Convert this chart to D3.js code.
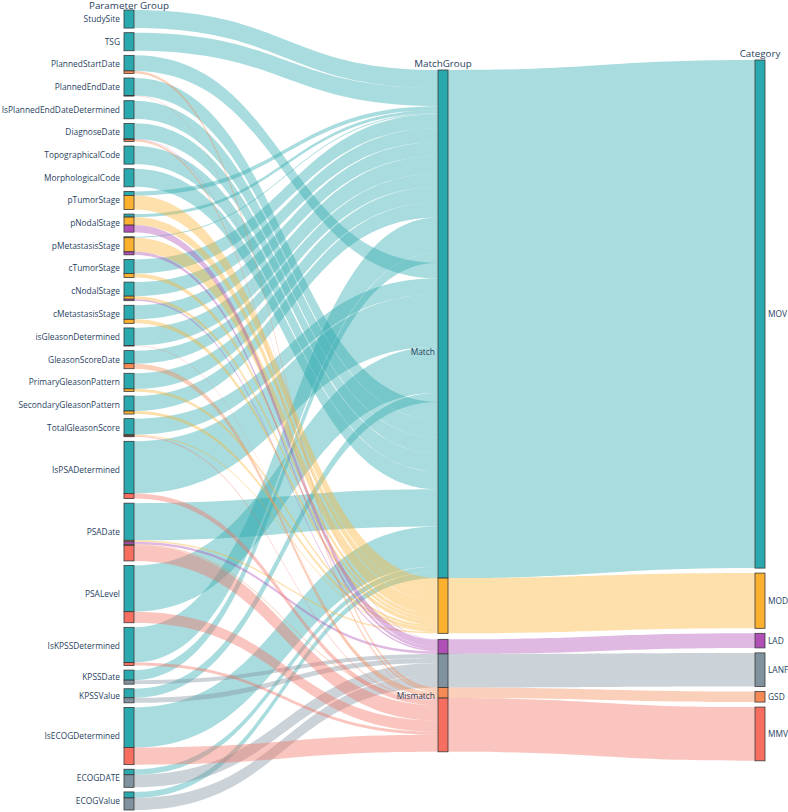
<!DOCTYPE html>
<html>
<head>
<meta charset="utf-8">
<script src="https://cdn.jsdelivr.net/npm/d3@7"></script>
<style>
  body { margin: 0; background: #fff; }
  text { font-family: "Open Sans", verdana, arial, sans-serif; fill: #2a3f5f; }
</style>
</head>
<body>
<div id="chart"></div>
<script>
// Parameters (left column), top to bottom
var params = ["StudySite", "TSG", "PlannedStartDate", "PlannedEndDate", "IsPlannedEndDateDetermined",
    "DiagnoseDate", "TopographicalCode", "MorphologicalCode", "pTumorStage", "pNodalStage",
    "pMetastasisStage", "cTumorStage", "cNodalStage", "cMetastasisStage", "isGleasonDetermined",
    "GleasonScoreDate", "PrimaryGleasonPattern", "SecondaryGleasonPattern", "TotalGleasonScore",
    "IsPSADetermined", "PSADate", "PSALevel", "IsKPSSDetermined", "KPSSDate", "KPSSValue",
    "IsECOGDetermined", "ECOGDATE", "ECOGValue"];

var categories = ["MOV", "MOD", "LAD", "LANF", "GSD", "MMV"];
var categoryGroup = ["Match", "Match", "Mismatch", "Mismatch", "Mismatch", "Mismatch"];
var groups = ["Match", "Mismatch"];
var columnTitles = ["Parameter Group", "MatchGroup", "Category"];

// values per parameter for each category (same order as params)
var movValues  = [18, 18, 15.5, 17.5, 18, 15.5, 18, 18, 4, 3, 1, 14, 14, 14, 17.5, 13, 15.5, 15, 16, 52, 37, 46, 35, 10, 9, 40, 5.5, 6];
var modValues  = [0, 0, 0, 0, 0, 0, 0, 0, 14, 8, 14, 4, 3, 4, 0, 0, 2.5, 3, 1, 0, 1.5, 0, 0, 0, 0, 0, 0, 0];
var ladValues  = [0, 0, 0, 0, 0, 0.5, 0, 0, 0, 7, 3, 0, 1.5, 0, 0, 0, 0, 0, 0, 0, 2.5, 0, 0, 0, 0, 0, 0, 0];
var lanfValues = [0, 0, 0, 0, 0, 0, 0, 0, 0, 0, 0, 0, 0, 0, 0, 0, 0, 0, 0, 0, 0, 0, 0, 4, 5, 0, 12.5, 12];
var gsdValues  = [0, 0, 2.5, 0, 0, 2, 0, 0, 0, 0, 0, 0, 0, 0, 0, 5, 0, 0, 0, 0, 1, 0, 0, 0, 0, 0, 0, 0];
var mmvValues  = [0, 0, 0, 0.5, 0, 0, 0, 0, 0, 0, 0, 0, 0, 0, 0.5, 0, 0, 0, 1, 5, 15.5, 11, 3, 0, 0, 17, 0, 0];

// order in which the MOV links arrive at the MatchGroup node
var movOrder = ["StudySite", "TSG", "pTumorStage", "pNodalStage", "pMetastasisStage", "cTumorStage",
    "cNodalStage", "cMetastasisStage", "isGleasonDetermined", "GleasonScoreDate", "PrimaryGleasonPattern",
    "SecondaryGleasonPattern", "IsKPSSDetermined", "KPSSDate", "PlannedStartDate", "TotalGleasonScore",
    "IsPSADetermined", "PSALevel", "KPSSValue", "PlannedEndDate", "IsPlannedEndDateDetermined",
    "DiagnoseDate", "TopographicalCode", "MorphologicalCode", "PSADate", "IsECOGDetermined",
    "ECOGDATE", "ECOGValue"];

var nodeColors = ["#29a8ad", "#fbb12f", "#b04fb6", "#7f929e", "#f68a55", "#f56e5f"];

var w = 788;
var h = 812;

var svg = d3.select("#chart")
    .append("svg")
    .attr("width", w)
    .attr("height", h);

var nodeX = [124, 438, 755];
var nodeW = 10;
var colTop = [10, 70, 60];
var leftBottom = 810;
var padLeft = 4.6, padRight = 5, padGroup = 6;

var series = [movValues, modValues, ladValues, lanfValues, gsdValues, mmvValues];
var catTotals = series.map(s => d3.sum(s));
var grand = d3.sum(catTotals);

var y = d3.scaleLinear()
    .domain([0, grand])
    .range([0, leftBottom - colTop[0] - padLeft * (params.length - 1)]);

// left column: one stacked bar per parameter, split by category
var leftNodes = [];
var leftGroups = [];
var cy = colTop[0];
params.forEach(function (p, i) {
    var g0 = cy;
    categories.forEach(function (c, ci) {
        var v = series[ci][i];
        if (v > 0) {
            leftNodes.push({ param: p, cat: ci, y0: cy, y1: cy + y(v) });
            cy += y(v);
        }
    });
    leftGroups.push({ name: p, y0: g0, y1: cy });
    cy += padLeft;
});

// middle column: Match / Mismatch, split by category
var midNodes = [];
var midGroups = [];
cy = colTop[1];
groups.forEach(function (g) {
    var g0 = cy;
    categories.forEach(function (c, ci) {
        if (categoryGroup[ci] !== g) return;
        midNodes[ci] = { cat: ci, y0: cy, y1: cy + y(catTotals[ci]) };
        cy = midNodes[ci].y1;
    });
    midGroups.push({ name: g, y0: g0, y1: cy });
    cy += padGroup;
});

// right column: categories
cy = colTop[2];
var rightNodes = categories.map(function (c, ci) {
    var n = { name: c, cat: ci, y0: cy, y1: cy + y(catTotals[ci]) };
    cy = n.y1 + padRight;
    return n;
});

// links
var links = [];
categories.forEach(function (c, ci) {
    var order = ci === 0 ? movOrder : params;
    var t = midNodes[ci].y0;
    order.forEach(function (p) {
        var src = leftNodes.find(n => n.param === p && n.cat === ci);
        if (!src) return;
        var bw = src.y1 - src.y0;
        links.push({ cat: ci, x0: nodeX[0] + nodeW, s0: src.y0, s1: src.y1, x1: nodeX[1], t0: t, t1: t + bw });
        t += bw;
    });
});
categories.forEach(function (c, ci) {
    links.push({ cat: ci, x0: nodeX[1] + nodeW, s0: midNodes[ci].y0, s1: midNodes[ci].y1,
        x1: nodeX[2], t0: rightNodes[ci].y0, t1: rightNodes[ci].y1 });
});

function linkPath(d) {
    var xm = (d.x0 + d.x1) / 2;
    return "M" + d.x0 + "," + d.s0 +
        "C" + xm + "," + d.s0 + " " + xm + "," + d.t0 + " " + d.x1 + "," + d.t0 +
        "L" + d.x1 + "," + d.t1 +
        "C" + xm + "," + d.t1 + " " + xm + "," + d.s1 + " " + d.x0 + "," + d.s1 + "Z";
}

svg.append("g")
    .selectAll("path")
    .data(links)
    .enter()
    .append("path")
    .attr("d", linkPath)
    .attr("fill", d => nodeColors[d.cat])
    .attr("fill-opacity", 0.4);

// nodes
var allNodes = leftNodes.map(n => Object.assign({ x: nodeX[0] }, n))
    .concat(midNodes.map(n => Object.assign({ x: nodeX[1] }, n)))
    .concat(rightNodes.map(n => Object.assign({ x: nodeX[2] }, n)));

svg.append("g")
    .selectAll("rect")
    .data(allNodes)
    .enter()
    .append("rect")
    .attr("x", d => d.x)
    .attr("y", d => d.y0)
    .attr("width", nodeW)
    .attr("height", d => d.y1 - d.y0)
    .attr("fill", d => nodeColors[d.cat])
    .attr("stroke", "#3b3b3b")
    .attr("stroke-width", 0.8);

// labels
var labels = svg.append("g").style("font-size", "8.4px");

labels.selectAll(".lbl-left")
    .data(leftGroups)
    .enter()
    .append("text")
    .attr("x", nodeX[0] - 4)
    .attr("y", d => (d.y0 + d.y1) / 2)
    .attr("dy", "0.35em")
    .attr("text-anchor", "end")
    .text(d => d.name);

labels.selectAll(".lbl-mid")
    .data(midGroups)
    .enter()
    .append("text")
    .attr("x", nodeX[1] - 3)
    .attr("y", d => (d.y0 + d.y1) / 2)
    .attr("dy", "0.35em")
    .attr("text-anchor", "end")
    .text(d => d.name);

labels.selectAll(".lbl-right")
    .data(rightNodes)
    .enter()
    .append("text")
    .attr("x", nodeX[2] + nodeW + 3)
    .attr("y", d => (d.y0 + d.y1) / 2)
    .attr("dy", "0.35em")
    .attr("text-anchor", "start")
    .text(d => d.name);

// column titles
svg.append("g")
    .selectAll("text")
    .data(columnTitles)
    .enter()
    .append("text")
    .attr("x", (d, i) => nodeX[i] + nodeW / 2)
    .attr("y", (d, i) => Math.max(colTop[i] - 3.5, 8.5))
    .attr("text-anchor", "middle")
    .style("font-size", "9.8px")
    .text(d => d);
</script>
</body>
</html>
